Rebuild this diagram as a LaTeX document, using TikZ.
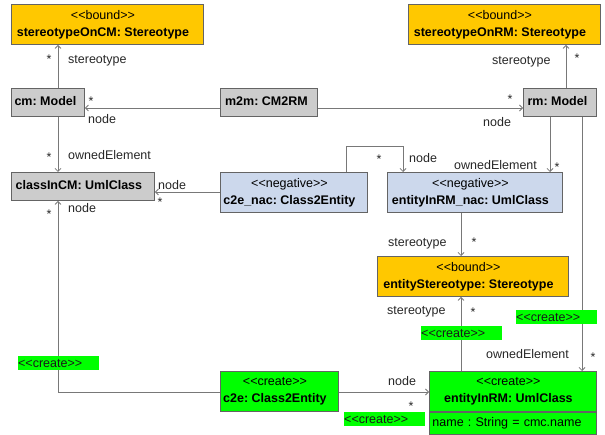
\documentclass[tikz,border=0pt]{standalone}
\usepackage{fontspec}
\setmainfont{Liberation Sans}
\usetikzlibrary{arrows.meta}
\frenchspacing

% stereotype brackets, kept as separate characters
\newcommand{\stO}{<\kern0pt<}
\newcommand{\stC}{>\kern0pt>}

\definecolor{boundfill}{RGB}{255,200,0}
\definecolor{plainfill}{RGB}{204,204,204}
\definecolor{negfill}{RGB}{204,216,236}
\definecolor{createfill}{RGB}{0,255,0}
\definecolor{edgecol}{RGB}{100,100,100}
\definecolor{linecol}{RGB}{120,120,120}

\tikzset{
  umlbox/.style={draw=edgecol, line width=0.9pt, inner sep=0pt,
    anchor=north west},
  boundbox/.style={umlbox, fill=boundfill},
  plainbox/.style={umlbox, fill=plainfill},
  negbox/.style={umlbox, fill=negfill},
  createbox/.style={umlbox, fill=createfill},
  boxtext/.style={inner sep=0pt, align=center, xshift=-4.5pt},
  boxtext1/.style={inner sep=0pt, align=center, xshift=-2.5pt, yshift=1pt},
  conn/.style={draw=linecol, line width=0.9pt,
    -{Straight Barb[length=3pt,width=6pt,line width=0.8pt]}},
  lbl/.style={inner sep=0pt, anchor=base west, text=black!85},
  star/.style={inner sep=0pt, anchor=base, text=black!85},
  createtag/.style={fill=createfill, inner sep=0pt, anchor=north west,
    text width=81pt, minimum height=14pt, align=left, text=black!90},
}

\begin{document}
\begin{tikzpicture}[x=1pt, y=-1pt, font=\fontsize{12.5}{17}\selectfont]
\useasboundingbox (0,0) rectangle (605,435);

% object boxes
\node[boundbox, minimum width=192pt, minimum height=40pt,
  label={[boxtext]center:{\stO bound\stC\\\textbf{stereotypeOnCM: Stereotype}}}]
  (sOnCM) at (11,4) {};
\node[boundbox, minimum width=192pt, minimum height=40pt,
  label={[boxtext]center:{\stO bound\stC\\\textbf{stereotypeOnRM: Stereotype}}}]
  (sOnRM) at (408,4) {};
\node[plainbox, minimum width=73pt, minimum height=28pt,
  label={[boxtext1]center:\textbf{cm: Model}}] (cm) at (11,88) {};
\node[plainbox, minimum width=97pt, minimum height=28pt,
  label={[boxtext1]center:\textbf{m2m: CM2RM}}] (m2m) at (220,88) {};
\node[plainbox, minimum width=73pt, minimum height=28pt,
  label={[boxtext1]center:\textbf{rm: Model}}] (rm) at (523,88) {};
\node[plainbox, minimum width=143pt, minimum height=28pt,
  label={[boxtext1, xshift=-1.5pt]center:\textbf{classInCM: UmlClass}}]
  (classInCM) at (11,172) {};
\node[negbox, minimum width=147pt, minimum height=40pt,
  label={[boxtext]center:{\stO negative\stC\\\textbf{c2e\_nac: Class2Entity}}}]
  (c2enac) at (220,172) {};
\node[negbox, minimum width=175pt, minimum height=40pt,
  label={[boxtext]center:{\stO negative\stC\\\textbf{entityInRM\_nac: UmlClass}}}]
  (einrmnac) at (387,172) {};
\node[boundbox, minimum width=191pt, minimum height=40pt,
  label={[boxtext]center:{\stO bound\stC\\\textbf{entityStereotype: Stereotype}}}]
  (estereo) at (377,256) {};
\node[createbox, minimum width=118pt, minimum height=40pt,
  label={[boxtext]center:{\stO create\stC\\\textbf{c2e: Class2Entity}}}]
  (c2e) at (220,371) {};
\node[createbox, minimum width=167pt, minimum height=40pt,
  label={[boxtext]center:{\stO create\stC\\\textbf{entityInRM: UmlClass}}}]
  (einrm) at (429,371) {};
\node[createbox, minimum width=167pt, minimum height=22pt, align=left,
      text width=161pt] (einrmattr) at (einrm.south west)
  {name : String = cmc.name};

% connectors
\draw[conn] (58,0 |- cm.north) -- (58,0 |- sOnCM.south);
\draw[conn] (m2m.west |- 0,108) -- (cm.east |- 0,108);
\draw[conn] (m2m.east |- 0,108) -- (rm.west |- 0,108);
\draw[conn] (566,0 |- rm.north) -- (566,0 |- sOnRM.south);
\draw[conn] (58,0 |- cm.south) -- (58,0 |- classInCM.north);
\draw[conn] (c2enac.west |- 0,192) -- (classInCM.east |- 0,192);
\draw[conn] (346,0 |- c2enac.north) -- (346,146) -- (403,146)
  -- (403,0 |- einrmnac.north);
\draw[conn] (550,0 |- rm.south) -- (550,0 |- einrmnac.north);
\draw[conn] (582,0 |- rm.south) -- (582,0 |- einrm.north);
\draw[conn] (461,0 |- einrmnac.south) -- (461,0 |- estereo.north);
\draw[conn] (461,0 |- einrm.north) -- (461,0 |- estereo.south);
\draw[conn] (c2e.west |- 0,392) -- (58,392) -- (58,0 |- classInCM.south);
\draw[conn] (c2e.east |- 0,392) -- (einrm.west |- 0,392);

% role names and multiplicities
\node[lbl] (l1) at (68,64) {stereotype};
\node[star] (s1) at (49,64) {*};
\node[star] (s2) at (91,106) {*};
\node[lbl] (l2) at (88,124) {node};
\node[lbl] (l3) at (68,160) {ownedElement};
\node[star] (s3) at (49,162) {*};
\node[lbl] (l4) at (158,190) {node};
\node[star] (s4) at (160,207) {*};
\node[lbl] (l5) at (68,213) {node};
\node[star] (s5) at (49,219) {*};
\node[lbl] (l6) at (492,65) {stereotype};
\node[star] (s6) at (577,63) {*};
\node[star] (s7) at (510,104) {*};
\node[lbl] (l7) at (483,127) {node};
\node[star] (s8) at (379,164) {*};
\node[lbl] (l8) at (409,163) {node};
\node[lbl] (l9) at (454,170) {ownedElement};
\node[star] (s9) at (557,172) {*};
\node[lbl] (l10) at (388,247) {stereotype};
\node[star] (s10) at (474,247) {*};
\node[lbl] (l11) at (387,315) {stereotype};
\node[star] (s11) at (473,317) {*};
\node[lbl] (l12) at (486,359) {ownedElement};
\node[star] (s12) at (593,362) {*};
\node[lbl] (l13) at (388,386) {node};
\node[star] (s13) at (411,410) {*};

% <<create>> tags on the new links
\node[createtag] (t1) at (18,356) {\stO create\stC};
\node[createtag] (t2) at (421,326) {\stO create\stC};
\node[createtag] (t3) at (516,310) {\stO create\stC};
\node[createtag] (t4) at (344,412) {\stO create\stC};
\end{tikzpicture}
\end{document}
